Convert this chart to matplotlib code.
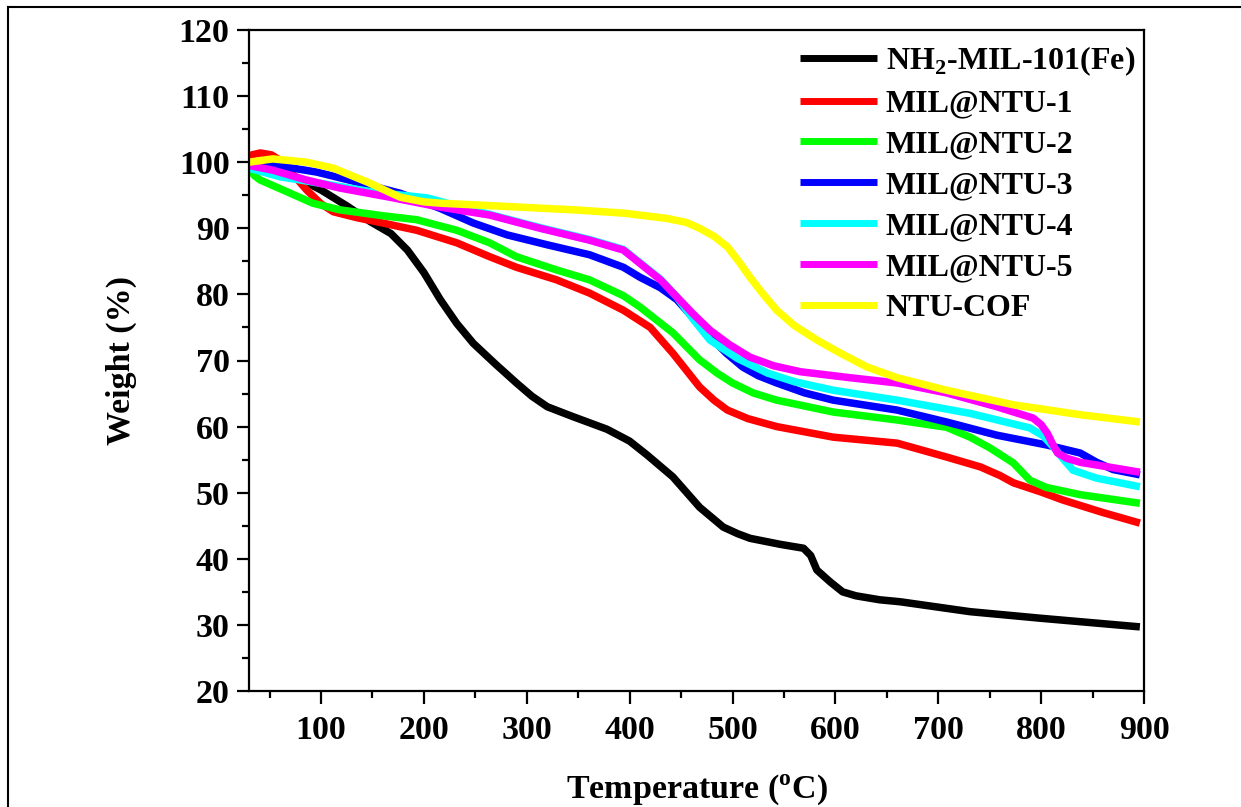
import numpy as np
import matplotlib
matplotlib.use('Agg')
import matplotlib.pyplot as plt
from matplotlib.lines import Line2D
from matplotlib.ticker import MultipleLocator

plt.rcParams['font.family'] = ['Liberation Serif', 'DejaVu Serif']
plt.rcParams['font.weight'] = 'bold'
plt.rcParams['mathtext.fontset'] = 'custom'
plt.rcParams['mathtext.rm'] = 'Liberation Serif:bold'
plt.rcParams['mathtext.bf'] = 'Liberation Serif:bold'

# TGA curves: temperature (C), weight (%)
t_mil = [30, 50, 75, 100, 125, 148, 168, 184, 200, 216, 232, 248, 270, 290, 305, 320, 345, 378,
         400, 417, 442, 468, 491, 505, 517, 546, 569, 576, 582, 595, 607, 620, 643, 663, 731, 800, 896]
w_mil = [100, 99.5, 97.8, 95.8, 93.4, 91, 89.2, 86.7, 83.3, 79.2, 75.6, 72.6, 69.4, 66.6, 64.6, 63,
         61.5, 59.6, 57.8, 55.7, 52.4, 47.8, 44.8, 43.8, 43.1, 42.2, 41.6, 40.5, 38.3, 36.5, 35, 34.4,
         33.8, 33.5, 32, 31, 29.7]

t_n1 = [30, 41, 52, 60, 72, 86, 100, 112, 135, 160, 193, 232, 264, 290, 329, 361, 394, 420, 442,
        468, 482, 495, 515, 543, 598, 660, 708, 741, 760, 773, 800, 821, 860, 896]
w_n1 = [101, 101.4, 101.1, 100.3, 98.3, 95.8, 93.7, 92.5, 91.6, 90.8, 89.7, 87.8, 85.7, 84.1, 82.2,
        80.2, 77.6, 75, 71.1, 66, 64, 62.5, 61.2, 60, 58.4, 57.5, 55.4, 53.9, 52.6, 51.5, 50.1, 48.9,
        47, 45.4]

t_n2 = [30, 35, 41, 63, 92, 118, 160, 193, 232, 264, 290, 329, 361, 394, 410, 442, 468, 485, 500,
        520, 543, 598, 660, 708, 731, 750, 773, 789, 805, 838, 896]
w_n2 = [99.3, 98, 97.3, 95.8, 93.8, 92.8, 91.9, 91.3, 89.7, 87.8, 85.7, 83.7, 82.2, 79.8, 78.1,
        74.2, 70.1, 68.1, 66.6, 65.1, 64, 62.2, 61, 59.9, 58.4, 56.8, 54.5, 51.9, 50.8, 49.7, 48.4]

t_n3 = [30, 53, 96, 135, 177, 216, 248, 281, 320, 361, 394, 410, 430, 446, 462, 478, 494, 510,
        525, 543, 570, 598, 660, 708, 757, 806, 838, 854, 870, 896]
w_n3 = [99.9, 99.6, 98.5, 97, 95.3, 93, 90.8, 89, 87.5, 86, 84.1, 82.6, 81, 79.2, 76.4, 73.6,
        71.1, 69, 67.7, 66.6, 65.1, 64, 62.5, 60.7, 58.7, 57.2, 56, 54.6, 53.5, 52.7]

t_n4 = [30, 60, 96, 150, 203, 264, 313, 361, 394, 410, 430, 446, 462, 478, 505, 534, 560, 598,
        660, 731, 789, 802, 812, 822, 831, 854, 896]
w_n4 = [99.1, 97.8, 96.9, 95.5, 94.6, 92.1, 90.1, 88.3, 86.8, 84.8, 82.3, 79.6, 76.2, 73.1, 70.3,
        68.1, 66.8, 65.5, 64, 62, 59.8, 58.6, 56.9, 55, 53.4, 52.2, 50.9]

t_n5 = [30, 53, 86, 118, 167, 216, 264, 313, 361, 394, 410, 430, 446, 462, 478, 497, 517, 540, 566,
        614, 660, 708, 757, 792, 800, 806, 811, 816, 825, 838, 896]
w_n5 = [99.5, 98.8, 97.3, 96.1, 94.7, 93.2, 92, 90, 88.2, 86.7, 84.7, 82.2, 79.6, 77, 74.6, 72.4,
        70.5, 69.2, 68.3, 67.4, 66.6, 65.1, 63, 61.3, 60.3, 59, 57.4, 56, 55.2, 54.6, 53.1]

t_cof = [30, 53, 86, 112, 145, 177, 200, 216, 281, 345, 394, 436, 455, 468, 482, 495, 506, 517,
         530, 543, 560, 582, 605, 631, 660, 708, 773, 838, 896]
w_cof = [100, 100.5, 100, 99.1, 97, 94.7, 94, 93.8, 93.3, 92.8, 92.3, 91.5, 90.9, 90, 88.8, 87.2,
         85, 82.6, 80, 77.6, 75.3, 73.1, 71.1, 69, 67.4, 65.5, 63.3, 61.8, 60.7]

series = [
    (t_mil, w_mil, r'NH$_\mathbf{2}$-MIL-101(Fe)', 'black'),
    (t_n1, w_n1, 'MIL@NTU-1', '#ff0000'),
    (t_n2, w_n2, 'MIL@NTU-2', '#00ff00'),
    (t_n3, w_n3, 'MIL@NTU-3', '#0000ff'),
    (t_n4, w_n4, 'MIL@NTU-4', '#00ffff'),
    (t_n5, w_n5, 'MIL@NTU-5', '#ff00ff'),
    (t_cof, w_cof, 'NTU-COF', '#ffff00'),
]

fig = plt.figure(figsize=(12.41, 8.07), dpi=100)
ax = fig.add_axes([249 / 1241, 1 - 691 / 807, (1144 - 249) / 1241, (691 - 30) / 807])

for t, w, lab, col in series:
    ax.plot(t, w, color=col, lw=5.4, label=lab, solid_joinstyle='round', solid_capstyle='butt')

ax.set_xlim(30, 900)
ax.set_ylim(20, 120)
ax.xaxis.set_major_locator(MultipleLocator(100))
ax.xaxis.set_minor_locator(MultipleLocator(50))
ax.yaxis.set_major_locator(MultipleLocator(10))
ax.yaxis.set_minor_locator(MultipleLocator(5))
ax.tick_params(which='major', direction='out', length=9, width=1.6, labelsize=24.5, pad=5)
ax.tick_params(axis='x', which='major', pad=8)
ax.tick_params(which='minor', direction='out', length=5, width=1.6)
for s in ax.spines.values():
    s.set_linewidth(1.6)
for lbl in ax.get_xticklabels() + ax.get_yticklabels():
    lbl.set_fontweight('bold')

ax.set_xlabel(r'Temperature ($^\mathbf{o}$C)', fontsize=24.5, fontweight='bold', labelpad=19)
ax.set_ylabel('Weight (%)', fontsize=24.5, fontweight='bold', labelpad=30)

leg = ax.legend(loc='upper right', frameon=False, fontsize=23, handlelength=2.4,
                handletextpad=0.28, labelspacing=0.36, borderaxespad=0.0, borderpad=0.45,
                bbox_to_anchor=(1.006, 1.0))
for line in leg.get_lines():
    line.set_linewidth(5)

# outer frame lines of the figure panel
fig.add_artist(Line2D([8 / 1241, 1], [1 - 7 / 807, 1 - 7 / 807], color='black', lw=1.5,
                      transform=fig.transFigure))
fig.add_artist(Line2D([8 / 1241, 8 / 1241], [0, 1 - 7 / 807], color='black', lw=1.5,
                      transform=fig.transFigure))

fig.savefig('out.png', dpi=100)
